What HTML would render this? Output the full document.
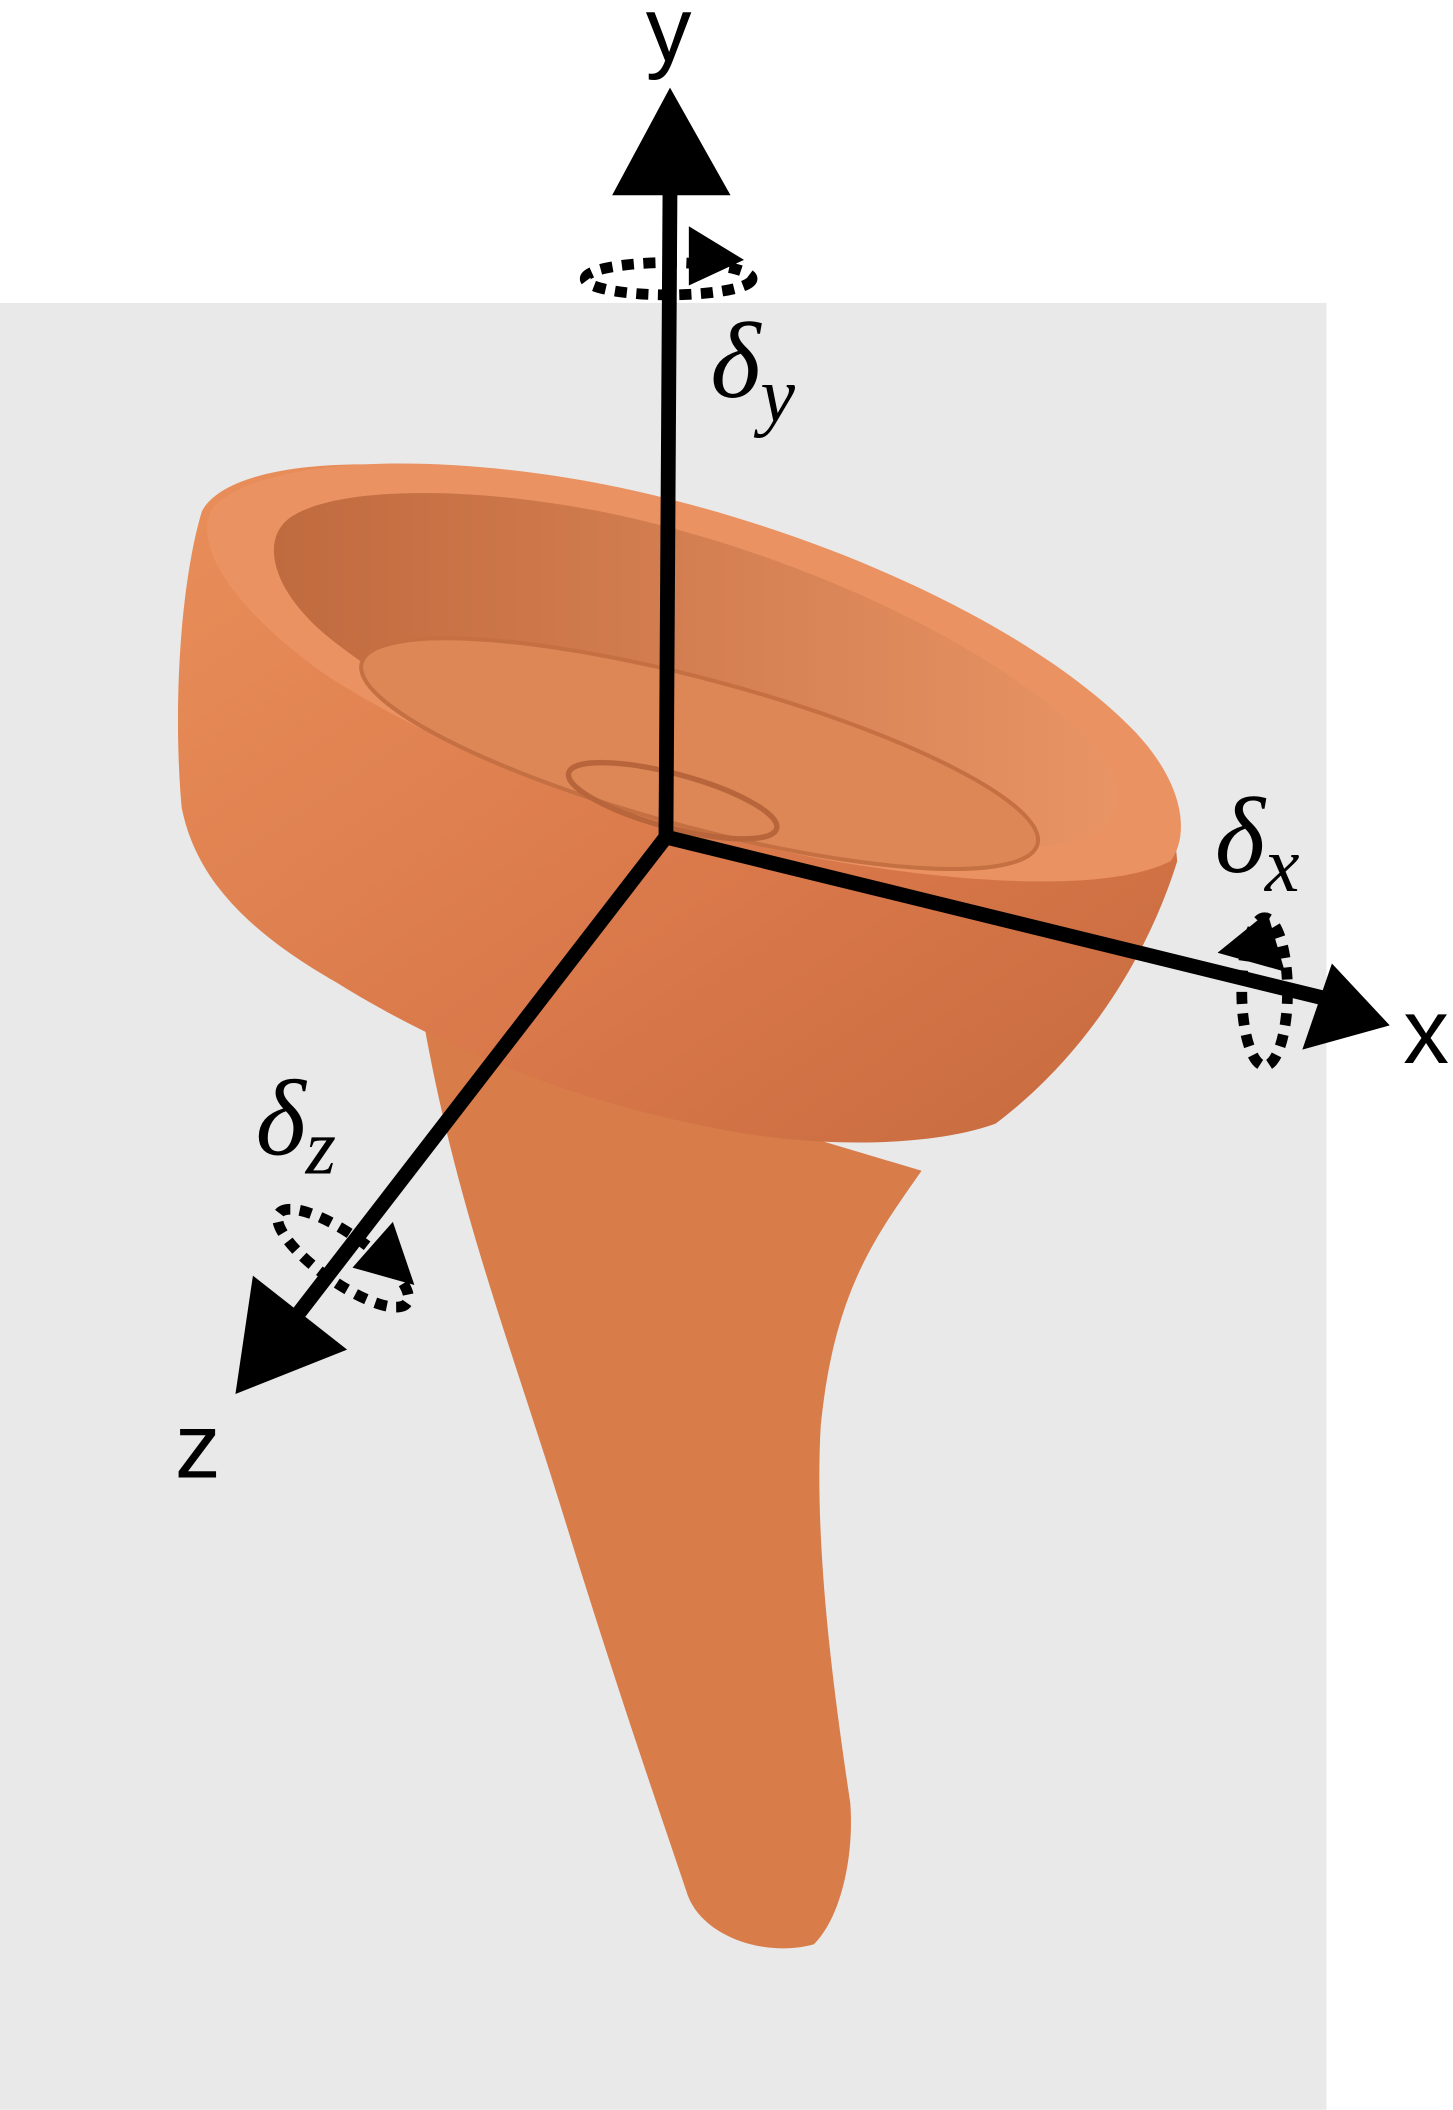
<!DOCTYPE html>
<html><head><meta charset="utf-8"><style>
html,body{margin:0;padding:0;background:#fff;}
svg{display:block;}
.lab{font-family:"Liberation Sans","DejaVu Sans",sans-serif;font-size:68px;}
.dl{font-family:"Liberation Serif","DejaVu Serif",serif;font-style:italic;font-size:80px;}
</style></head><body>
<svg width="1453" height="2110" viewBox="0 0 1080 1568" xmlns="http://www.w3.org/2000/svg">
<defs>
<linearGradient id="cupg" x1="0" y1="0" x2="1" y2="1">
<stop offset="0" stop-color="#e98f5a"/><stop offset="0.6" stop-color="#d9784a"/><stop offset="1" stop-color="#c56a3e"/>
</linearGradient>
<linearGradient id="inner" x1="0" y1="0" x2="1" y2="0">
<stop offset="0" stop-color="#c06a3f"/><stop offset="1" stop-color="#e89464"/>
</linearGradient>
</defs>
<rect x="0" y="225" width="986" height="1343" fill="#e9e9e9"/>
<g>
<path d="M315,760 C340,900 380,1000 420,1130 C460,1260 495,1360 510,1405 C520,1440 570,1455 605,1445 C625,1425 635,1380 632,1340 C620,1260 605,1150 610,1060 C620,960 650,920 685,870 Z" fill="#d87c4a"/>
<path d="M150,380 C135,430 128,520 135,600 C145,650 180,690 250,730 C330,780 430,820 540,840 C620,855 700,850 740,835 C800,790 850,720 875,640 C870,560 800,500 700,450 C580,390 420,345 270,345 C200,345 160,360 150,380 Z" fill="url(#cupg)"/>
<path d="M160,375 C200,340 320,335 450,360 C600,390 760,460 840,540 C880,580 885,620 870,640 C830,660 740,660 620,640 C480,615 330,560 240,500 C170,450 140,400 160,375 Z" fill="#ea9262"/>
<path d="M215,385 C250,360 360,360 470,385 C600,415 740,480 810,550 C840,585 835,615 800,625 C740,640 640,630 520,600 C400,570 300,520 240,470 C200,435 195,400 215,385 Z" fill="url(#inner)"/>
<ellipse cx="520" cy="560" rx="260" ry="55" transform="rotate(15 520 560)" fill="#dd8757" stroke="#c57043" stroke-width="3"/>
<ellipse cx="500" cy="595" rx="80" ry="20" transform="rotate(15 500 595)" fill="none" stroke="#b8653c" stroke-width="4"/>
</g>
<g>
<line x1="495" y1="622" x2="498" y2="140" stroke="#000" stroke-width="11"/>
<polygon points="455,145 543,145 498,65" fill="#000"/>
<text x="497" y="45" class="lab" text-anchor="middle">y</text>
</g>
<g>
<line x1="495" y1="622" x2="985" y2="742" stroke="#000" stroke-width="11"/>
<polygon points="1033,762 968,780 990,716" fill="#000"/>
<text x="1060" y="790" class="lab" text-anchor="middle">x</text>
</g>
<g>
<line x1="495" y1="622" x2="215" y2="985" stroke="#000" stroke-width="11"/>
<polygon points="175,1036 188,948 258,1003" fill="#000"/>
<text x="147" y="1098" class="lab" text-anchor="middle">z</text>
</g>
<g fill="none" stroke="#000" stroke-width="8" stroke-dasharray="9,7">
<ellipse cx="497" cy="207" rx="62" ry="12"/>
<polygon points="512,168 553,193 512,212" fill="#000" stroke="none"/>
</g>
<g fill="none" stroke="#000" stroke-width="8" stroke-dasharray="9,7">
<ellipse cx="940" cy="737" rx="17" ry="55"/>
<polygon points="942,678 905,708 955,722" fill="#000" stroke="none"/>
</g>
<g fill="none" stroke="#000" stroke-width="8" stroke-dasharray="9,7">
<ellipse cx="255" cy="935" rx="58" ry="18" transform="rotate(35 255 935)"/>
<polygon points="292,908 308,955 262,942" fill="#000" stroke="none"/>
</g>
<text x="528" y="295" class="dl">δ<tspan font-size="58" dy="18">y</tspan></text>
<text x="903" y="648" class="dl">δ<tspan font-size="58" dy="14">x</tspan></text>
<text x="190" y="858" class="dl">δ<tspan font-size="58" dy="14">z</tspan></text>
</svg>
</body></html>
